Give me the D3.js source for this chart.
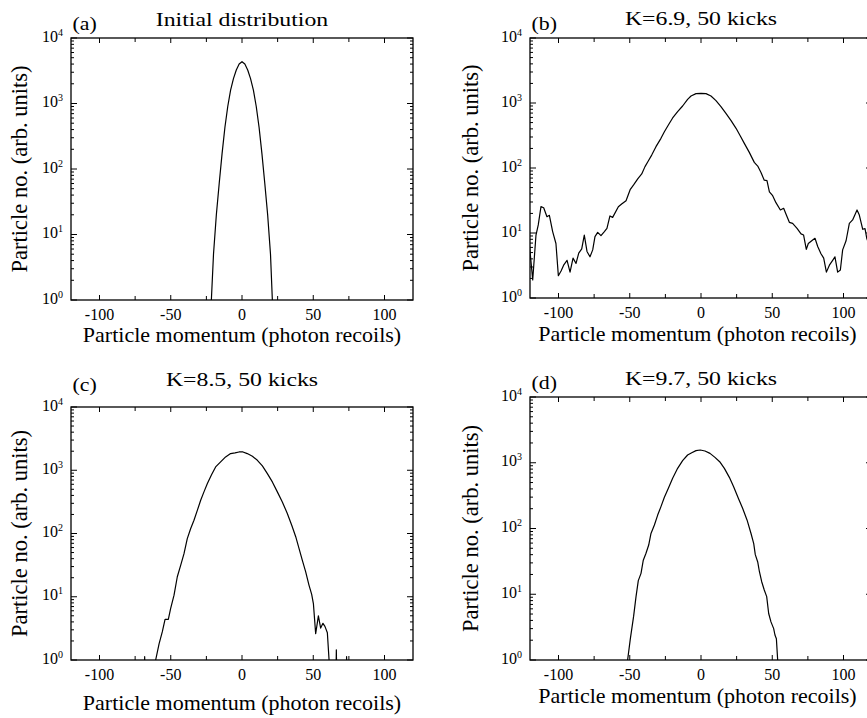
<!DOCTYPE html>
<html>
<head>
<meta charset="utf-8">
<script src="https://cdn.jsdelivr.net/npm/d3@7"></script>
<style>
  body { margin: 0; background: #fff; }
  svg { display: block; }
  text { font-family: "Liberation Serif", "Times New Roman", serif; fill: #000; }
</style>
</head>
<body>
<script>
// Tick values
let xMajor = [-100, -50, 0, 50, 100];
let xMinor = [-75, -25, 25, 75];
let yExps = [0, 1, 2, 3, 4];

// (a) Initial distribution
let momA = [-21.5, -20, -18, -16, -14, -12, -10, -8, -6, -4, -2, 0, 2, 4, 6, 8, 10, 12, 14, 16, 18, 20, 21.3];
let numA = [1, 5, 20, 60, 170, 430, 900, 1600, 2400, 3250, 4000, 4350, 4000, 3250, 2400, 1600, 900, 430, 170, 60, 20, 5, 1];

// (b) K=6.9, 50 kicks
let momB = [-120.5, -118.1, -115.8, -114.2, -112.3, -110.4, -108.1, -106.4, -104.1, -101.8,
  -100.1, -98.2, -96.4, -94.0, -91.9, -89.8, -87.7, -85.8, -83.7, -81.9,
  -80.0, -77.9, -76.0, -74.4, -72.5, -70.2, -67.8, -66.0, -63.9, -62.0,
  -58.0, -55.7, -52.6, -49.6, -47.3, -44.4, -41.6, -39.3, -37.0, -34.6,
  -31.6, -28.1, -25.7, -22.9, -19.9, -16.4, -12.9, -9.4, -7.0, -3.5,
  0, 3.5, 7.0, 10.5, 14.0, 17.5, 21.1, 24.6, 27.6, 30.4,
  33.9, 37.4, 39.8, 42.1, 44.4, 46.3, 48.0, 50.3, 52.6, 55.7,
  58.0, 59.9, 62.0, 64.3, 67.4, 70.2, 72.0, 73.9, 75.3, 77.7,
  80.0, 81.9, 84.2, 86.1, 88.0, 90.1, 92.4, 94.0, 95.9, 97.8,
  99.4, 101.8, 104.1, 106.4, 109.5, 111.1, 113.5, 115.1, 116.3, 118.0];
let numB = [6.9, 1.9, 9.3, 13.3, 25.4, 24.5, 17.8, 18.7, 10.5, 6.9,
  2.2, 2.6, 3.2, 3.8, 2.5, 4.1, 3.4, 4.9, 5.7, 9.3,
  5.2, 4.3, 5.5, 8.8, 10.2, 9.1, 10.5, 11.8, 18.3, 17.4,
  25.4, 27.9, 31.4, 47, 55, 68, 81, 105, 128, 158,
  213, 286, 362, 459, 588, 736, 899, 1138, 1282, 1393,
  1409, 1393, 1282, 1087, 879, 693, 535, 408, 311, 239,
  174, 122, 107, 85, 65, 64, 43, 37.5, 29.3, 22.6,
  24, 18.9, 14.6, 14.1, 11.8, 9.7, 9.3, 5.6, 6.9, 7.6,
  8.3, 6.2, 4.8, 4.1, 2.5, 3.2, 3.8, 4.3, 2.5, 2.7,
  5.5, 7.6, 14.1, 15.9, 22.6, 18.9, 11.4, 11.7, 8.3, 6.5];

// (c) K=8.5, 50 kicks  (0.1 = empty bin, below the axis)
let momC = [-69, -68.3, -67.5, -61.5, -60.6, -58.2, -55.9, -54.0, -51.7, -50.1,
  -47.7, -45.4, -43.0, -40.7, -38.4, -36.0, -33.7, -31.3, -29.0, -26.7,
  -24.3, -21.3, -18.5, -15.0, -11.5, -8.0, -4.9, -2.1, 0.7, 3.7,
  7.3, 10.8, 14.3, 17.8, 21.3, 24.8, 28.3, 31.8, 34.9, 37.7,
  40.0, 42.3, 44.7, 47.0, 48.9, 50.1, 51.7, 53.6, 55.2, 56.8,
  58.2, 59.9, 61.1, 62.5, 65.5, 66.2, 67.0, 72.6, 73.4, 74.2];
let numC = [0.1, 1.13, 0.1, 0.1, 1, 1.8, 2.8, 4.4, 4.4, 6.5,
  10.6, 20.7, 31.6, 48, 83, 120, 162, 234, 336, 455,
  616, 855, 1129, 1355, 1624, 1834, 1878, 1946, 1946, 1834,
  1662, 1438, 1170, 886, 654, 455, 316, 207, 135, 89,
  58, 38, 24.8, 15.3, 10.9, 7.8, 2.6, 5.0, 3.2, 3.8,
  3.4, 2.7, 1, 0.1, 0.1, 1.45, 0.1, 0.1, 1.13, 0.1];

// (d) K=9.7, 50 kicks
let momD = [-51.5, -49.6, -47.3, -45.6, -44.0, -42.1, -40.5, -38.6, -36.7, -35.1,
  -32.7, -30.4, -28.1, -25.7, -22.9, -19.9, -16.4, -12.9, -9.4, -6.5,
  -3.5, -0.5, 2.8, 6.3, 9.8, 13.1, 16.4, 19.9, 22.9, 26.2,
  29.2, 32.3, 35.1, 37.0, 38.1, 39.8, 41.0, 42.6, 44.4, 46.1,
  47.5, 49.1, 51.0, 51.9, 52.9, 53.8];
let numD = [1, 2.1, 4.6, 9.2, 16.1, 20.8, 33, 42, 56, 84,
  113, 160, 215, 298, 408, 580, 822, 1076, 1312, 1422,
  1528, 1563, 1510, 1390, 1208, 1038, 822, 600, 433, 288,
  203, 135, 84, 59, 40, 31, 22, 15.5, 11.6, 9.2,
  5.1, 3.8, 3.0, 2.4, 2.1, 1];

// Panel placement on the page
let panels = [
  {tag: "(a)", title: "Initial distribution", mom: momA, num: numA,
   left: 71, right: 413, top: 38, bottom: 300, titleY: 26, tagY: 30, xLabelY: 342, yLabelX: 27},
  {tag: "(b)", title: "K=6.9, 50 kicks", mom: momB, num: numB,
   left: 530, right: 872, top: 38, bottom: 298, titleY: 25, tagY: 30, xLabelY: 341, yLabelX: 478},
  {tag: "(c)", title: "K=8.5, 50 kicks", mom: momC, num: numC,
   left: 71, right: 413, top: 407, bottom: 660, titleY: 386, tagY: 391, xLabelY: 710, yLabelX: 27},
  {tag: "(d)", title: "K=9.7, 50 kicks", mom: momD, num: numD,
   left: 530, right: 872, top: 397, bottom: 660, titleY: 385, tagY: 389, xLabelY: 703, yLabelX: 478}
];

let svg = d3.select("body").append("svg")
  .attr("width", 867)
  .attr("height", 718);

// minor ticks 2..9 in each decade
let yMinor = [];
for (let d = 0; d < 4; d++) {
  for (let k = 2; k <= 9; k++) yMinor.push(k * Math.pow(10, d));
}

function drawPanel(p, i) {
  let x = d3.scaleLinear().domain([-120, 120]).range([p.left, p.right]);
  let y = d3.scaleLog().domain([1, 10000]).range([p.bottom, p.top]);

  let g = svg.append("g");

  g.append("clipPath")
    .attr("id", "clip" + i)
    .append("rect")
    .attr("x", p.left)
    .attr("y", p.top)
    .attr("width", p.right - p.left)
    .attr("height", p.bottom - p.top);

  // data line
  let pts = p.mom.map((m, j) => [m, p.num[j]]);
  g.append("path")
    .datum(pts)
    .attr("clip-path", "url(#clip" + i + ")")
    .attr("fill", "none")
    .attr("stroke", "#000")
    .attr("stroke-width", 1.2)
    .attr("stroke-linejoin", "round")
    .attr("d", d3.line().x(d => x(d[0])).y(d => y(d[1])));

  // x ticks, inward on top and bottom
  let ticks = g.append("g").attr("stroke", "#000").attr("stroke-width", 1);
  xMajor.concat(xMinor).forEach(v => {
    let len = xMajor.includes(v) ? 5 : 4;
    ticks.append("line").attr("x1", x(v)).attr("x2", x(v)).attr("y1", p.top).attr("y2", p.top + len);
    ticks.append("line").attr("x1", x(v)).attr("x2", x(v)).attr("y1", p.bottom).attr("y2", p.bottom - len);
  });

  // y ticks, inward on left and right
  yExps.map(e => Math.pow(10, e)).forEach(v => {
    ticks.append("line").attr("x1", p.left).attr("x2", p.left + 6).attr("y1", y(v)).attr("y2", y(v));
    ticks.append("line").attr("x1", p.right).attr("x2", p.right - 6).attr("y1", y(v)).attr("y2", y(v));
  });
  yMinor.forEach(v => {
    ticks.append("line").attr("x1", p.left).attr("x2", p.left + 3).attr("y1", y(v)).attr("y2", y(v));
    ticks.append("line").attr("x1", p.right).attr("x2", p.right - 3).attr("y1", y(v)).attr("y2", y(v));
  });

  // frame
  g.append("rect")
    .attr("x", p.left)
    .attr("y", p.top)
    .attr("width", p.right - p.left)
    .attr("height", p.bottom - p.top)
    .attr("fill", "none")
    .attr("stroke", "#000")
    .attr("stroke-width", 1.3);

  // x tick labels
  g.selectAll(".xl")
    .data(xMajor)
    .enter().append("text")
    .attr("x", d => x(d))
    .attr("y", p.bottom + 20)
    .attr("text-anchor", "middle")
    .attr("font-size", 16)
    .text(d => d);

  // y tick labels 10^n
  yExps.forEach(e => {
    let t = g.append("text")
      .attr("x", p.left - 8)
      .attr("y", y(Math.pow(10, e)) + 3.5)
      .attr("text-anchor", "end")
      .attr("font-size", 16);
    t.append("tspan").text("10");
    t.append("tspan").attr("dy", -6).attr("font-size", 10).text(e);
  });

  // axis titles
  g.append("text")
    .attr("x", (p.left + Math.min(p.right, 867)) / 2 + (p.right > 867 ? -1 : 0))
    .attr("y", p.xLabelY)
    .attr("text-anchor", "middle")
    .attr("font-size", 22)
    .text("Particle momentum (photon recoils)");

  g.append("text")
    .attr("transform", "translate(" + p.yLabelX + "," + (p.top + p.bottom) / 2 + ") rotate(-90)")
    .attr("text-anchor", "middle")
    .attr("font-size", 22.5)
    .text("Particle no. (arb. units)");

  // panel title and tag
  g.append("text")
    .attr("transform", "translate(" + (p.left + p.right) / 2 + "," + p.titleY + ") scale(1.22,1)")
    .attr("text-anchor", "middle")
    .attr("font-size", 19.5)
    .text(p.title);

  g.append("text")
    .attr("transform", "translate(" + (p.left + 1.5) + "," + p.tagY + ") scale(1.15,1)")
    .attr("font-size", 19)
    .text(p.tag);
}

panels.forEach(drawPanel);
</script>
</body>
</html>
